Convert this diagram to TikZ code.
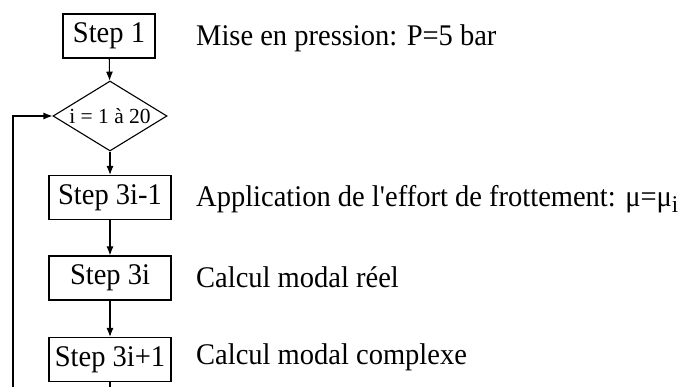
\documentclass[tikz,border=0pt]{standalone}
\usepackage{fontspec}
\setmainfont{Liberation Serif}[FakeStretch=0.95]
\newfontfamily\plainserif{Liberation Serif}
\usetikzlibrary{shapes.geometric,arrows.meta}
\begin{document}
\begin{tikzpicture}[x=1pt,y=-1pt,
  every node/.style={font=\fontsize{30}{32}\selectfont},
  stepbox/.style={draw,line width=1.1pt,minimum height=44pt,inner sep=0pt,text height=21pt,text depth=7pt},
  loopbox/.style={draw,diamond,line width=1.1pt,minimum width=114pt,minimum height=70pt,inner sep=0pt,aspect=1.63,font=\plainserif\fontsize{21.5}{22}\selectfont},
  lbl/.style={anchor=base west,inner sep=0pt},
  conn/.style={line width=1.1pt,-{Latex[length=9pt,width=7pt]}},
  plain/.style={line width=1.1pt}]
\useasboundingbox (0,0) rectangle (694,387);
\node[stepbox,minimum width=92pt] (s1) at (109,36) {Step 1};
\node[loopbox] (d) at (110,116) {i = 1 à 20};
\node[stepbox,minimum width=122pt] (s2) at (110,197.5) {Step 3i-1};
\node[stepbox,minimum width=122pt] (s3) at (110,278) {Step 3i};
\node[stepbox,minimum width=122pt] (s4) at (110,359.5) {Step 3i+1};
\node[lbl] (t1) at (196,45.5) {Mise en pression: P=5 bar};
\node[lbl] (t2) at (196,207) {Application de l\textquotesingle effort de frottement: μ=μ\raisebox{-6pt}{\fontsize{24}{24}\selectfont i}};
\node[lbl] (t3) at (196,288) {Calcul modal réel};
\node[lbl] (t4) at (196,365) {Calcul modal complexe};
\coordinate (b1) at (110,390);
\coordinate (b2) at (13,390);
\draw[conn] (s1) -- (d);
\draw[conn] (d) -- (s2);
\draw[conn] (s2) -- (s3);
\draw[conn] (s3) -- (s4);
\draw[plain] (s4) -- (b1);
\draw[conn] (b2) |- (d.west);
\end{tikzpicture}
\end{document}
